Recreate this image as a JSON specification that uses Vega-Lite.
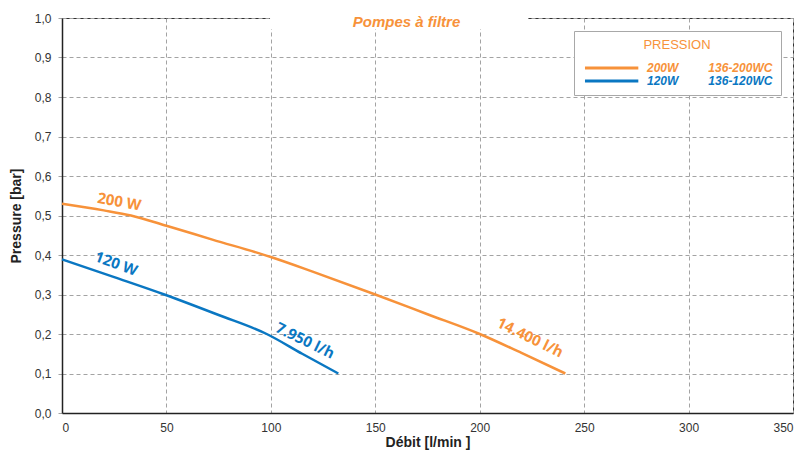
{
  "$schema": "https://vega.github.io/schema/vega-lite/v6.json",
  "width": 731,
  "height": 395,
  "autosize": {"type": "none"},
  "padding": {"left": 62, "top": 18, "right": 11, "bottom": 39},
  "background": "white",
  "title": {
    "text": "Pompes à filtre",
    "font": "Liberation Sans",
    "fontSize": 15,
    "fontWeight": "bold",
    "fontStyle": "italic",
    "color": "#f7923a",
    "anchor": "middle",
    "frame": "group",
    "baseline": "alphabetic",
    "offset": -30,
    "dx": -21
  },
  "config": {
    "view": {"stroke": "#333", "strokeWidth": 1},
    "axis": {
      "grid": true,
      "gridDash": [4, 3],
      "gridColor": "#a3a3a3",
      "gridWidth": 1,
      "domainColor": "#222",
      "domainWidth": 1.5,
      "labelFont": "Liberation Sans",
      "labelFontSize": 12,
      "labelColor": "#333",
      "titleFont": "Liberation Sans",
      "titleFontSize": 14,
      "titleFontWeight": "bold",
      "titleColor": "#222"
    }
  },
  "datasets": {
    "curves": [
      {"series": "200W", "debit": 0, "pressure": 0.530},
      {"series": "200W", "debit": 20, "pressure": 0.513},
      {"series": "200W", "debit": 33, "pressure": 0.500},
      {"series": "200W", "debit": 50, "pressure": 0.474},
      {"series": "200W", "debit": 72, "pressure": 0.439},
      {"series": "200W", "debit": 100, "pressure": 0.395},
      {"series": "200W", "debit": 120, "pressure": 0.358},
      {"series": "200W", "debit": 150, "pressure": 0.300},
      {"series": "200W", "debit": 175, "pressure": 0.250},
      {"series": "200W", "debit": 200, "pressure": 0.200},
      {"series": "200W", "debit": 220, "pressure": 0.152},
      {"series": "200W", "debit": 241, "pressure": 0.100},
      {"series": "120W", "debit": 0, "pressure": 0.389},
      {"series": "120W", "debit": 25, "pressure": 0.344},
      {"series": "120W", "debit": 49, "pressure": 0.300},
      {"series": "120W", "debit": 75, "pressure": 0.248},
      {"series": "120W", "debit": 98, "pressure": 0.200},
      {"series": "120W", "debit": 115, "pressure": 0.150},
      {"series": "120W", "debit": 132.3, "pressure": 0.100}
    ],
    "labels": [
      {"label": "200 W", "series": "200W", "debit": 27.4, "pressure": 0.535},
      {"label": "120 W", "series": "120W", "debit": 25.9, "pressure": 0.378},
      {"label": "7.950 l/h", "series": "120W", "debit": 116.4, "pressure": 0.183},
      {"label": "14.400 l/h", "series": "200W", "debit": 224.1, "pressure": 0.191}
    ]
  },
  "layer": [
    {
      "data": {"name": "curves"},
      "mark": {"type": "line", "strokeWidth": 2.5, "interpolate": "monotone"},
      "encoding": {
        "x": {
          "field": "debit", "type": "quantitative",
          "scale": {"domain": [0, 350], "nice": false},
          "axis": {
            "values": [0, 50, 100, 150, 200, 250, 300, 350],
            "tickCount": 10,
            "ticks": false,
            "labelPadding": 9,
            "title": "Débit [l/min ]",
            "titlePadding": 2
          }
        },
        "y": {
          "field": "pressure", "type": "quantitative",
          "scale": {"domain": [0, 1], "nice": false},
          "axis": {
            "values": [0, 0.1, 0.2, 0.3, 0.4, 0.5, 0.6, 0.7, 0.8, 0.9, 1.0],
            "tickCount": 12,
            "labelExpr": "replace(format(datum.value, '.1f'), '.', ',')",
            "labelOverlap": false,
            "ticks": true,
            "tickSize": 4,
            "tickColor": "#a3a3a3",
            "tickDash": [4, 3],
            "labelPadding": 7,
            "title": "Pressure [bar]",
            "titlePadding": 11
          }
        },
        "color": {
          "field": "series", "type": "nominal",
          "scale": {"domain": ["200W", "120W"], "range": ["#f7923a", "#0a77c2"]},
          "legend": {
            "orient": "none",
            "legendX": 512,
            "legendY": 13,
            "title": "PRESSION",
            "titleFont": "Liberation Sans",
            "titleFontSize": 13,
            "titleFontWeight": "normal",
            "titleColor": "#f7923a",
            "titleAnchor": "middle",
            "titlePadding": 9,
            "padding": 8,
            "fillColor": "white",
            "strokeColor": "#a8a8a8",
            "symbolType": "M-0.76,0H9.32",
            "symbolSize": 112,
            "symbolStrokeWidth": 3,
            "labelOffset": 51,
            "rowPadding": 0,
            "labelFont": "Liberation Sans",
            "labelFontSize": 12,
            "labelFontWeight": "bold",
            "labelFontStyle": "italic",
            "labelExpr": "datum.label + '\u00a0\u00a0\u00a0\u00a0\u00a0\u00a0\u00a0\u00a0\u00a0' + (datum.label == '200W' ? '136-200WC' : '136-120WC')",
            "encode": {
              "labels": {
                "update": {
                  "fill": {"signal": "datum.value == '200W' ? '#f7923a' : '#0a77c2'"}
                }
              }
            }
          }
        }
      }
    },
    {
      "data": {"name": "labels"},
      "transform": [{"filter": "datum.label == '200 W'"}],
      "mark": {"type": "text", "font": "Open Sans", "fontSize": 15, "fontWeight": "bold", "angle": 10, "align": "center", "baseline": "middle"},
      "encoding": {
        "x": {"field": "debit", "type": "quantitative"},
        "y": {"field": "pressure", "type": "quantitative"},
        "text": {"field": "label"},
        "color": {"field": "series", "type": "nominal", "legend": null}
      }
    },
    {
      "data": {"name": "labels"},
      "transform": [{"filter": "datum.label == '120 W'"}],
      "mark": {"type": "text", "font": "Open Sans", "fontSize": 15, "fontWeight": "bold", "angle": 20, "align": "center", "baseline": "middle"},
      "encoding": {
        "x": {"field": "debit", "type": "quantitative"},
        "y": {"field": "pressure", "type": "quantitative"},
        "text": {"field": "label"},
        "color": {"field": "series", "type": "nominal", "legend": null}
      }
    },
    {
      "data": {"name": "labels"},
      "transform": [{"filter": "datum.label == '7.950 l/h' || datum.label == '14.400 l/h'"}],
      "mark": {"type": "text", "font": "Open Sans", "fontSize": 15, "fontWeight": "bold", "angle": 26, "align": "center", "baseline": "middle"},
      "encoding": {
        "x": {"field": "debit", "type": "quantitative"},
        "y": {"field": "pressure", "type": "quantitative"},
        "text": {"field": "label"},
        "color": {"field": "series", "type": "nominal", "legend": null}
      }
    },
    {
      "data": {"values": [{}]},
      "mark": {"type": "rect", "color": "white"},
      "encoding": {
        "x": {"datum": 99.6, "type": "quantitative"},
        "x2": {"datum": 223.2},
        "y": {"datum": 0.972, "type": "quantitative"},
        "y2": {"datum": 1.012}
      }
    }
  ]
}
